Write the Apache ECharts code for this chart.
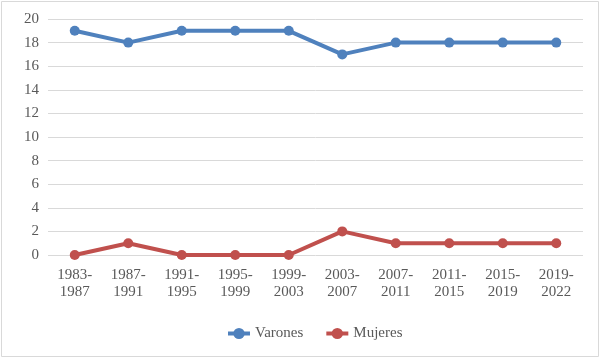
<!DOCTYPE html>
<html><head><meta charset="utf-8">
<script src="https://cdn.jsdelivr.net/npm/echarts@6/dist/echarts.min.js"></script>
<style>html,body{margin:0;padding:0;background:#fff}#c{width:600px;height:358px}</style>
</head><body><div id="c"></div>
<script>
const categories = ["1983-\n1987","1987-\n1991","1991-\n1995","1995-\n1999","1999-\n2003","2003-\n2007","2007-\n2011","2011-\n2015","2015-\n2019","2019-\n2022"];
const varones = [19,18,19,19,19,17,18,18,18,18];
const mujeres = [0,1,0,0,0,2,1,1,1,1];
const yTicks = {min:0,max:20,interval:2};
const font = "'Liberation Serif','Times New Roman',serif";
const chart = echarts.init(document.getElementById('c'));
chart.setOption({
  animation:false,
  graphic:[{type:'rect',shape:{x:1.5,y:1.5,width:597,height:355},style:{fill:'none',stroke:'#d9d9d9',lineWidth:1}}],
  grid:{left:48,right:17,top:19,bottom:103},
  legend:{top:321,left:221,itemWidth:22,itemHeight:14,itemGap:21,
    textStyle:{fontFamily:font,fontSize:15,color:'#595959'},
    lineStyle:{width:4},
    data:['Varones','Mujeres']},
  xAxis:{type:'category',data:categories,boundaryGap:true,
    axisLine:{show:false},axisTick:{show:false},
    axisLabel:{fontFamily:font,fontSize:15,color:'#595959',lineHeight:17,margin:12,interval:0}},
  yAxis:{type:'value',min:yTicks.min,max:yTicks.max,interval:yTicks.interval,
    axisLine:{show:false},axisTick:{show:false},
    splitLine:{lineStyle:{color:'#d9d9d9',width:1}},
    axisLabel:{fontFamily:font,fontSize:15,color:'#595959',margin:9}},
  series:[
    {name:'Varones',type:'line',data:varones,symbol:'circle',symbolSize:10,
     lineStyle:{width:4,color:'#4F81BD'},itemStyle:{color:'#4F81BD'}},
    {name:'Mujeres',type:'line',data:mujeres,symbol:'circle',symbolSize:10,
     lineStyle:{width:4,color:'#C0504D'},itemStyle:{color:'#C0504D'}}
  ]
});
</script></body></html>
